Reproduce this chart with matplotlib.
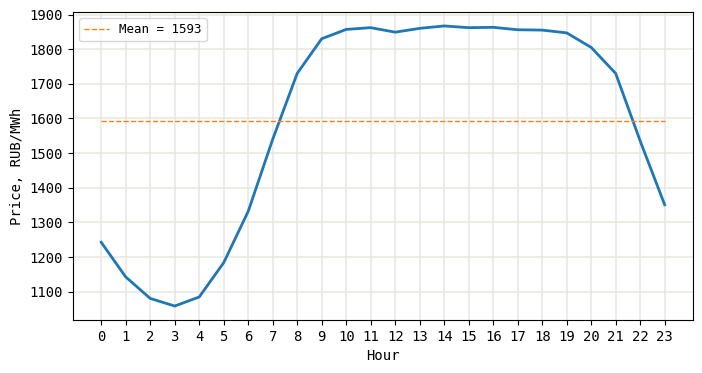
import matplotlib
matplotlib.use("Agg")
import matplotlib.pyplot as plt
import numpy as np

plt.rcParams['font.family'] = ['DejaVu Sans Mono']

hours = list(range(24))
prices = [1243, 1143, 1081, 1059, 1085, 1184, 1332, 1540, 1730, 1830,
          1857, 1862, 1849, 1860, 1867, 1862, 1863, 1856, 1855, 1847,
          1805, 1730, 1535, 1351]

mean_val = float(np.mean(prices))

fig, ax = plt.subplots(figsize=(7.02, 3.73), dpi=100)
fig.subplots_adjust(left=0.104, right=0.987, top=0.968, bottom=0.142)

ax.grid(True, color='#e8e8e2', linewidth=1.1)
ax.set_axisbelow(True)
ax.plot(hours, prices, color='#1f77b4', linewidth=2)
ax.hlines(mean_val, hours[0], hours[-1], colors='#ff7f0e', linestyles='--',
          linewidth=1, label=f'Mean = {mean_val:.0f}')
ax.set_xticks(hours)
ax.set_xlabel('Hour')
ax.set_ylabel('Price, RUB/MWh')
ax.legend(loc='upper left', fontsize=9)

fig.savefig('out.png', dpi=100)
